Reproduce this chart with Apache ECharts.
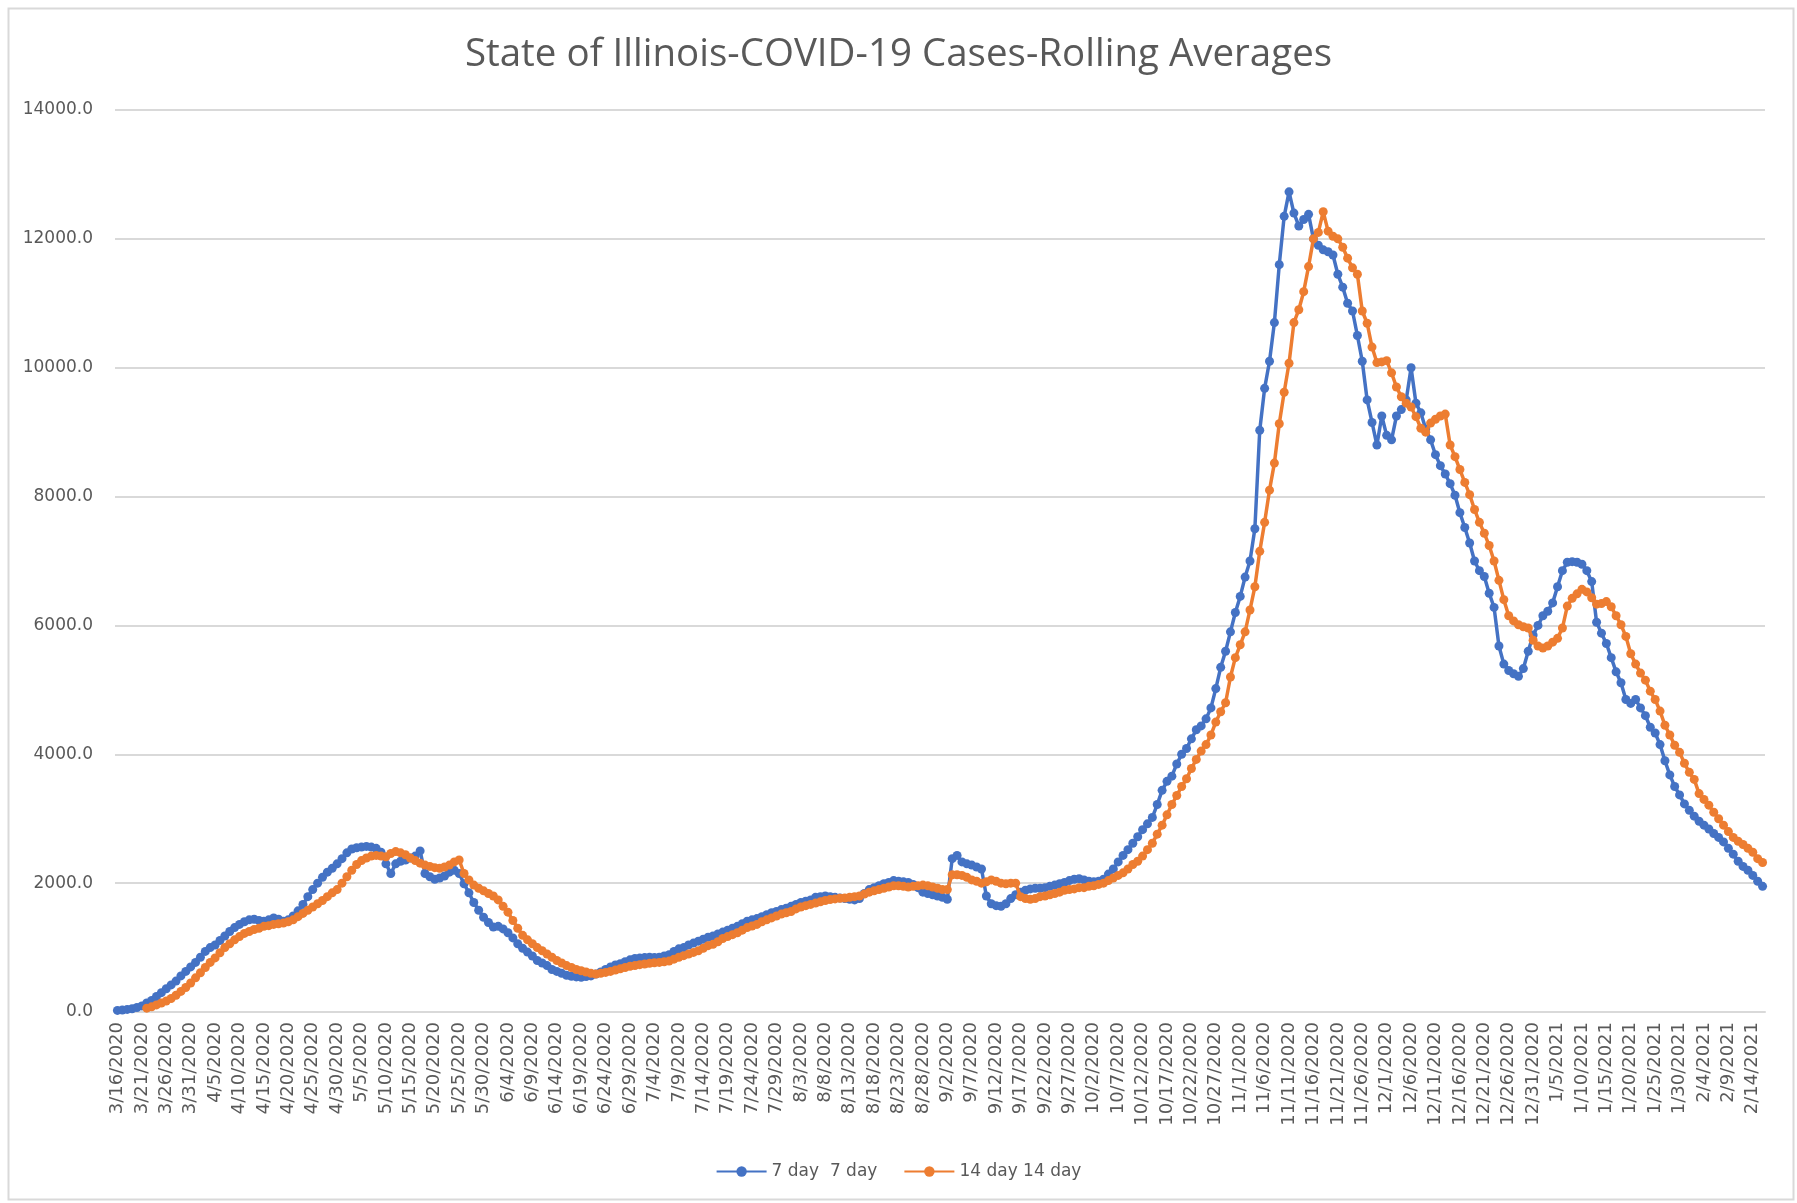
<!DOCTYPE html>
<html>
<head>
<meta charset="utf-8">
<script src="https://cdn.jsdelivr.net/npm/echarts@6/dist/echarts.min.js"></script>
<style>
html,body{margin:0;padding:0;background:#fff;}
#chart{width:1797px;height:1203px;}
</style>
</head>
<body>
<div id="chart"></div>
<script>
// Categories: daily dates 3/16/2020 .. 2/16/2021
const startDate = [2020, 2, 16];
const dayCount = 338;
const yTicks = [0, 2000, 4000, 6000, 8000, 10000, 12000, 14000];
const seriesNames = ['7 day  7 day', '14 day 14 day'];

const sevenDay = [
25,30,40,50,70,95,140,180,240,300,
360,420,480,560,630,700,770,850,940,1000,
1040,1110,1180,1250,1310,1360,1400,1430,1440,1420,
1410,1430,1460,1440,1410,1430,1490,1570,1670,1790,
1900,2000,2090,2170,2230,2300,2380,2470,2530,2550,
2560,2570,2560,2540,2480,2300,2150,2300,2340,2360,
2390,2420,2500,2150,2100,2060,2080,2110,2170,2200,
2150,1990,1850,1700,1580,1470,1390,1320,1330,1290,
1230,1150,1060,990,930,870,800,760,720,660,
630,600,570,555,545,540,550,560,590,620,
660,700,730,750,780,810,830,840,845,850,
845,850,870,890,940,980,1000,1040,1070,1100,
1130,1160,1180,1210,1240,1270,1300,1330,1370,1410,
1430,1450,1480,1510,1540,1560,1590,1610,1640,1670,
1700,1720,1740,1780,1790,1800,1790,1780,1770,1760,
1750,1740,1760,1840,1900,1930,1960,1990,2010,2040,
2030,2020,2010,1980,1930,1860,1840,1820,1800,1780,
1750,2380,2430,2330,2300,2280,2250,2220,1800,1680,
1650,1640,1680,1760,1820,1860,1890,1910,1920,1920,
1930,1950,1970,1990,2010,2040,2060,2070,2050,2030,
2020,2030,2060,2140,2220,2330,2430,2520,2620,2720,
2830,2920,3020,3220,3440,3580,3660,3850,4000,4090,
4240,4380,4440,4550,4720,5020,5350,5600,5900,6200,
6450,6750,7000,7500,9030,9680,10100,10700,11600,12350,
12730,12400,12200,12300,12380,12000,11900,11830,11800,11750,
11450,11250,11000,10880,10500,10100,9500,9150,8800,9250,
8950,8880,9250,9350,9500,10000,9450,9300,9050,8880,
8650,8480,8350,8200,8020,7750,7520,7280,7000,6850,
6760,6500,6280,5680,5400,5300,5250,5210,5330,5600,
5850,6000,6150,6220,6350,6600,6850,6980,6990,6980,
6950,6850,6680,6050,5880,5720,5500,5280,5110,4850,
4790,4850,4720,4600,4420,4330,4150,3900,3680,3500,
3370,3230,3130,3040,2960,2900,2840,2770,2710,2640,
2540,2450,2340,2260,2200,2120,2030,1950
];

const fourteenDay = [
null,null,null,null,null,null,60,80,110,140,
170,210,260,320,380,450,530,610,690,770,
840,920,1000,1060,1120,1170,1220,1250,1280,1300,
1330,1340,1360,1370,1380,1400,1430,1480,1530,1580,
1630,1680,1730,1790,1850,1900,2000,2100,2200,2290,
2350,2390,2420,2430,2420,2410,2460,2490,2470,2440,
2390,2350,2310,2280,2260,2240,2230,2250,2280,2330,
2360,2150,2050,1970,1920,1880,1840,1800,1740,1640,
1550,1420,1300,1190,1120,1060,1000,950,900,850,
800,760,720,690,660,640,620,600,590,600,
615,630,650,670,690,710,720,735,745,755,
765,770,780,790,820,850,875,900,925,950,
990,1030,1050,1090,1140,1170,1200,1230,1270,1310,
1335,1360,1400,1430,1460,1490,1520,1540,1560,1600,
1630,1650,1670,1690,1710,1730,1745,1755,1765,1770,
1780,1790,1800,1830,1860,1880,1900,1920,1940,1960,
1960,1950,1940,1950,1960,1970,1960,1940,1920,1900,
1900,2130,2130,2120,2090,2050,2030,2000,2020,2050,
2030,2000,1990,2000,2000,1790,1760,1750,1760,1790,
1800,1820,1840,1860,1890,1900,1910,1930,1930,1950,
1960,1980,2000,2040,2080,2120,2160,2220,2290,2340,
2420,2520,2620,2760,2900,3060,3220,3360,3500,3620,
3780,3920,4050,4150,4300,4500,4660,4800,5200,5500,
5700,5900,6240,6600,7150,7600,8100,8520,9130,9620,
10070,10700,10900,11180,11570,12000,12100,12420,12120,12040,
12000,11870,11700,11550,11450,10880,10690,10320,10080,10090,
10110,9920,9700,9550,9450,9390,9240,9060,9000,9140,
9200,9250,9280,8800,8620,8420,8220,8030,7800,7600,
7430,7240,7000,6700,6400,6150,6070,6010,5980,5960,
5770,5680,5650,5680,5740,5800,5960,6300,6420,6490,
6560,6520,6430,6330,6340,6370,6290,6150,6010,5830,
5560,5400,5260,5150,4980,4850,4670,4450,4300,4140,
4030,3860,3720,3610,3390,3300,3210,3100,3000,2900,
2800,2710,2650,2600,2540,2480,2380,2320
];

const categories = [];
{
  const d = new Date(startDate[0], startDate[1], startDate[2]);
  for (let k = 0; k < dayCount; k++) {
    categories.push((d.getMonth() + 1) + '/' + d.getDate() + '/' + d.getFullYear());
    d.setDate(d.getDate() + 1);
  }
}

const gray = '#595959';
const gridGray = '#d9d9d9';
const chart = echarts.init(document.getElementById('chart'));
chart.setOption({
  backgroundColor: '#ffffff',
  animation: false,
  title: {
    text: 'State of Illinois-COVID-19 Cases-Rolling Averages',
    left: 'center',
    top: 31,
    textStyle: { fontFamily: 'Open Sans', fontSize: 38.5, fontWeight: 'normal', color: gray }
  },
  graphic: [{
    type: 'rect', left: 6, top: 6,
    shape: { width: 1785, height: 1191 },
    style: { fill: 'none', stroke: gridGray, lineWidth: 2 },
    silent: true, z: -1
  }],
  legend: {
    data: seriesNames,
    top: 1158,
    left: 'center',
    itemWidth: 50,
    itemHeight: 13,
    itemGap: 26,
    textStyle: { fontFamily: 'DejaVu Sans', fontSize: 17, color: gray }
  },
  grid: { left: 115, right: 32, top: 110, bottom: 191, containLabel: false },
  xAxis: {
    type: 'category',
    data: categories,
    boundaryGap: true,
    axisLine: { show: true, lineStyle: { color: gridGray, width: 2 } },
    axisTick: { show: false },
    axisLabel: {
      interval: 4,
      rotate: 90,
      margin: 10,
      fontFamily: 'DejaVu Sans',
      fontSize: 18,
      color: gray
    },
    splitLine: { show: false }
  },
  yAxis: {
    type: 'value',
    min: yTicks[0],
    max: yTicks[yTicks.length - 1],
    interval: yTicks[1] - yTicks[0],
    axisLine: { show: false },
    axisTick: { show: false },
    axisLabel: {
      margin: 22,
      fontFamily: 'DejaVu Sans',
      fontSize: 17,
      color: gray,
      formatter: v => v.toFixed(1)
    },
    splitLine: { lineStyle: { color: gridGray, width: 2 } }
  },
  series: [
    {
      name: seriesNames[0],
      type: 'line',
      data: sevenDay,
      symbol: 'circle',
      symbolSize: 9,
      showAllSymbol: true,
      itemStyle: { color: '#4472C4' },
      lineStyle: { color: '#4472C4', width: 3.5 },
      z: 2
    },
    {
      name: seriesNames[1],
      type: 'line',
      data: fourteenDay,
      symbol: 'circle',
      symbolSize: 9,
      showAllSymbol: true,
      itemStyle: { color: '#ED7D31' },
      lineStyle: { color: '#ED7D31', width: 3.5 },
      z: 3
    }
  ]
});
</script>
</body>
</html>
